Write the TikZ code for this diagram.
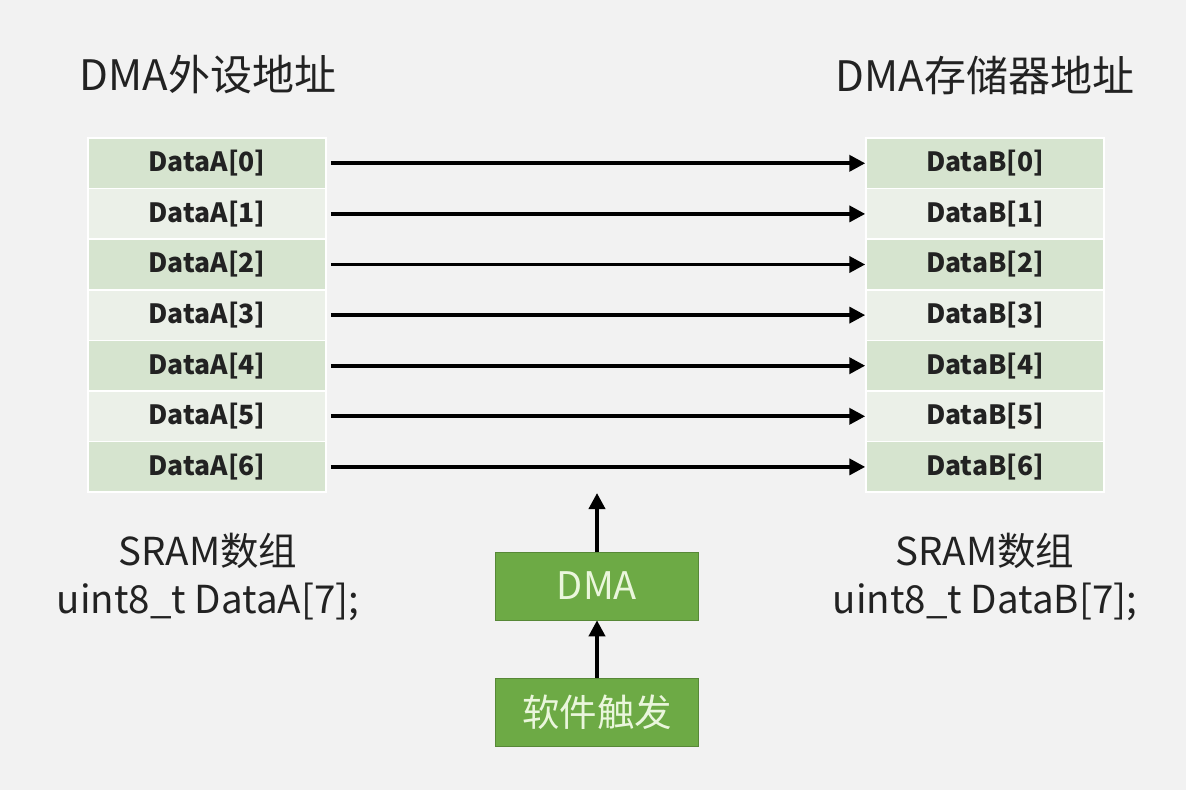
\documentclass[tikz,border=0pt]{standalone}
\usepackage{fontspec}
\setmainfont{Noto Sans CJK SC}
\usetikzlibrary{arrows.meta}
\definecolor{bg}{HTML}{F2F2F2}
\definecolor{celldark}{HTML}{D6E4CF}
\definecolor{celllight}{HTML}{EBF0E8}
\definecolor{boxgreen}{HTML}{6DAA45}
\definecolor{boxtext}{HTML}{EAF6DC}
\definecolor{txt}{HTML}{222222}
\begin{document}
\begin{tikzpicture}[x=1pt,y=-1pt,
  cell/.style={draw=white,line width=1.5pt,minimum width=238pt,minimum height=50.5pt,inner sep=0pt,
    font=\fontsize{26.5}{26.5}\selectfont\bfseries,text=txt},
  dark/.style={cell,fill=celldark},
  light/.style={cell,fill=celllight},
  arr/.style={line width=3.8pt,-{Triangle[length=16pt,width=16pt]}},
  gbox/.style={fill=boxgreen,draw=boxgreen!80!black,line width=0.6pt,minimum width=203pt,minimum height=68pt,inner sep=0pt,text=boxtext},
  title/.style={font=\fontsize{42}{44}\selectfont,text=txt},
  lbl/.style={font=\fontsize{38.5}{48}\selectfont,text=txt,align=center}
]
\fill[bg] (0,0) rectangle (1186,790);
\useasboundingbox (0,0) rectangle (1186,790);

\node[title] (ta) at (208,75) {DMA外设地址};
\node[title] (tb) at (985,75) {DMA存储器地址};

\foreach \i/\s in {0/dark,1/light,2/dark,3/light,4/dark,5/light,6/dark}{
  \node[\s] (a\i) at (207,163.3+50.6*\i) {DataA[\i]};
  \node[\s] (b\i) at (985,163.3+50.6*\i) {DataB[\i]};
  \draw[arr] ([xshift=4pt]a\i.east) -- (b\i.west);
}

\node[lbl] (la) at (208,577) {SRAM数组\\uint8\_t DataA[7];};
\node[lbl] (lb) at (985,577) {SRAM数组\\uint8\_t DataB[7];};

\node[gbox,font=\fontsize{38}{38}\selectfont] (dma) at (597,586) {DMA};
\node[gbox,font=\fontsize{37.5}{37.5}\selectfont] (sw) at (597,712) {软件触发};
\coordinate (top) at (597,493);
\draw[arr] (dma.north) -- (top);
\draw[arr] (sw.north) -- (dma.south);
\end{tikzpicture}
\end{document}
